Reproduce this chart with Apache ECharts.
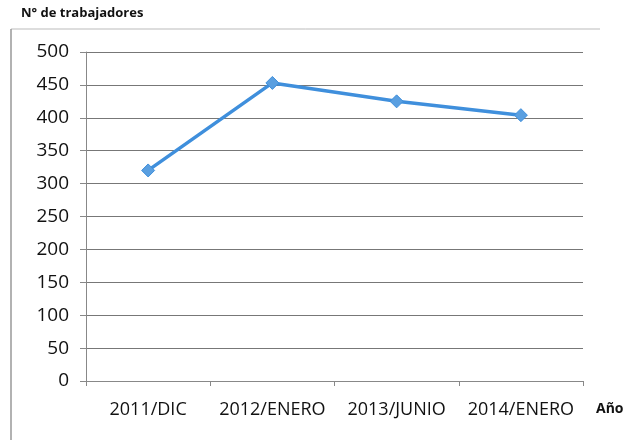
<!DOCTYPE html>
<html><head><meta charset="utf-8">
<script src="https://cdn.jsdelivr.net/npm/echarts@6/dist/echarts.min.js"></script>
<style>html,body{margin:0;padding:0;background:#fff}#c{width:629px;height:440px}</style>
</head><body><div id="c"></div>
<script>
const categories = ['2011/DIC', '2012/ENERO', '2013/JUNIO', '2014/ENERO'];
const trabajadores = [320, 453, 425, 404];
const yTicks = [0, 50, 100, 150, 200, 250, 300, 350, 400, 450, 500];

const chart = echarts.init(document.getElementById('c'));
chart.setOption({
  backgroundColor: '#fff',
  animation: false,
  grid: {left: 86, right: 46, top: 52, bottom: 59},
  graphic: [
    {type: 'line', shape: {x1: 11, y1: 29, x2: 600, y2: 29}, style: {stroke: '#bbb', lineWidth: 1}},
    {type: 'line', shape: {x1: 11, y1: 29, x2: 11, y2: 440}, style: {stroke: '#999', lineWidth: 1.5}},
    {type: 'text', left: 21, top: 7, style: {text: 'N° de trabajadores', font: 'bold 13px "Open Sans", sans-serif', fill: '#111'}},
    {type: 'text', left: 596, top: 402, style: {text: 'Año', font: 'bold 14px "Open Sans", sans-serif', fill: '#111'}}
  ],
  xAxis: {
    type: 'category', data: categories, boundaryGap: true,
    axisLine: {lineStyle: {color: '#888', width: 1}},
    axisTick: {show: true, length: 5, interval: 0, lineStyle: {color: '#888'}},
    axisLabel: {color: '#111', fontSize: 18, interval: 0, hideOverlap: false, fontFamily: '"Open Sans", sans-serif', margin: 20}
  },
  yAxis: {
    type: 'value', min: yTicks[0], max: yTicks[yTicks.length - 1], interval: 50,
    axisLine: {show: true, lineStyle: {color: '#888'}},
    axisTick: {show: true, length: 6, lineStyle: {color: '#888'}},
    axisLabel: {color: '#111', fontSize: 19, fontFamily: '"Open Sans", sans-serif', margin: 17},
    splitLine: {lineStyle: {color: '#777', width: 1}}
  },
  series: [{
    type: 'line', data: trabajadores,
    symbol: 'diamond', symbolSize: 13,
    lineStyle: {color: '#3f8fdc', width: 3.5},
    itemStyle: {color: '#5a9fe0', borderColor: '#3f8fdc', borderWidth: 1}
  }]
});
</script></body></html>
